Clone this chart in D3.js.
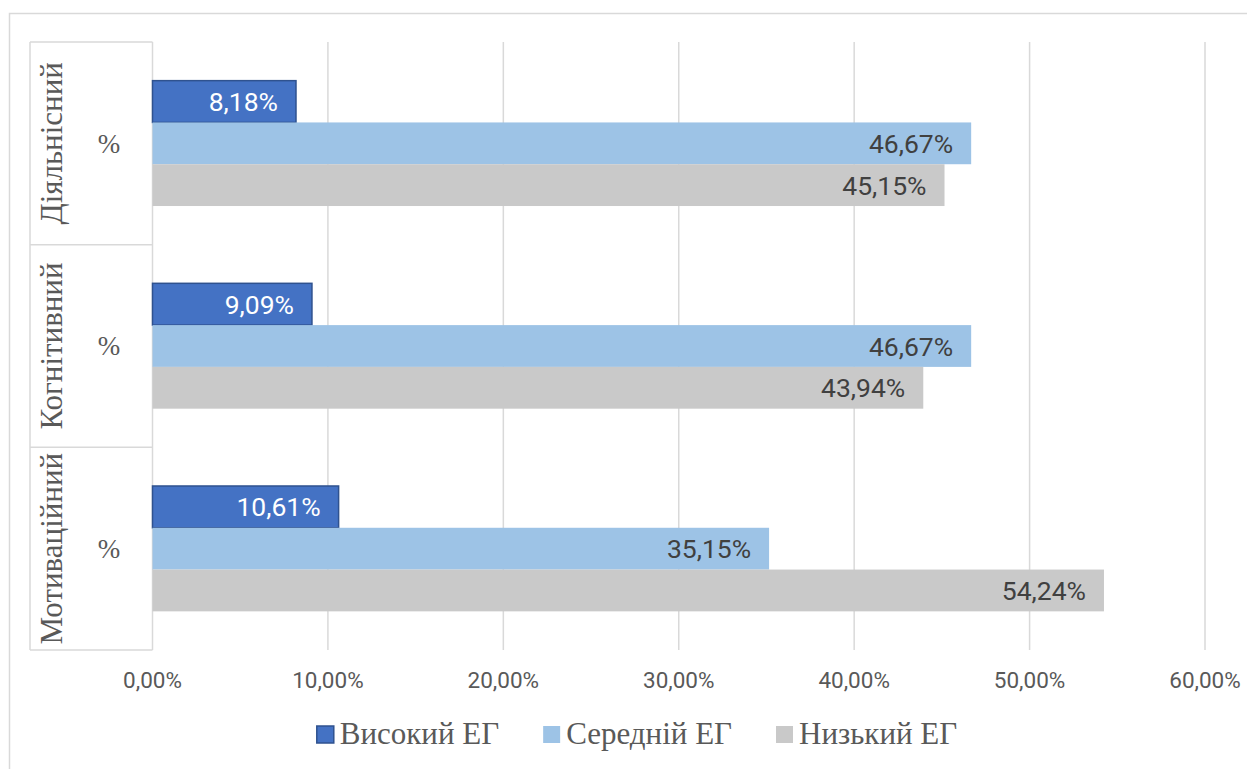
<!DOCTYPE html>
<html>
<head>
<meta charset="utf-8">
<script src="https://cdn.jsdelivr.net/npm/d3@7"></script>
<style>
  body { margin: 0; background: #fff; }
  svg { display: block; }
</style>
</head>
<body>
<svg id="chart" width="1247" height="769"></svg>
<script>
// categories top -> bottom, as in the picture
var categories = ["Діяльнісний", "Когнітивний", "Мотиваційний"];
var subLabel = "%";
var series = ["Високий ЕГ", "Середній ЕГ", "Низький ЕГ"];
var vysokyi = [8.18, 9.09, 10.61];
var serednii = [46.67, 46.67, 35.15];
var nyzkyi = [45.15, 43.94, 54.24];
var ticks = [0, 10, 20, 30, 40, 50, 60];

var colors = ["#4472C4", "#9DC3E6", "#C9C9C9"];
var labelColors = ["#ffffff", "#404040", "#404040"];
var values = [vysokyi, serednii, nyzkyi];

var svg = d3.select("#chart");
var pLeft = 152.5, pRight = 1205, pTop = 42, pBottom = 650;

// outer chart frame
svg.append("rect").attr("x", 9.5).attr("y", 13.5).attr("width", 1400).attr("height", 900)
  .attr("fill", "none").attr("stroke", "#d9d9d9").attr("stroke-width", 1.5);

var x = d3.scaleLinear().domain([0, 60]).range([pLeft, pRight]);
var y = d3.scaleBand().domain(categories).range([pTop, pBottom]);
var yInner = d3.scaleBand().domain(series).range([0, y.bandwidth()]).paddingOuter(0.925);

// vertical gridlines
svg.append("g").selectAll("line").data(ticks.slice(1)).join("line")
  .attr("x1", function(d){ return x(d); }).attr("x2", function(d){ return x(d); })
  .attr("y1", pTop).attr("y2", pBottom)
  .attr("stroke", "#d9d9d9").attr("stroke-width", 1.5);

// category axis boxes
var catAxis = svg.append("g");
catAxis.append("line").attr("x1", pLeft).attr("x2", pLeft).attr("y1", pTop).attr("y2", pBottom)
  .attr("stroke", "#d9d9d9").attr("stroke-width", 1.5);
catAxis.append("line").attr("x1", 30).attr("x2", 30).attr("y1", pTop).attr("y2", pBottom)
  .attr("stroke", "#d9d9d9").attr("stroke-width", 1.5);
var edges = categories.map(function(c){ return y(c); }).concat([pBottom]);
catAxis.selectAll(".sep").data(edges).join("line").attr("class", "sep")
  .attr("x1", 30).attr("x2", pLeft)
  .attr("y1", function(d){ return d; }).attr("y2", function(d){ return d; })
  .attr("stroke", "#d9d9d9").attr("stroke-width", 1.5);

catAxis.selectAll(".cat").data(categories).join("text").attr("class", "cat")
  .attr("transform", function(d){ return "translate(62," + (y(d) + y.bandwidth()/2) + ") rotate(-90)"; })
  .attr("text-anchor", "middle")
  .style("font-family", "'Liberation Serif', 'Times New Roman', serif")
  .style("font-size", "31px").style("fill", "#595959")
  .text(function(d){ return d; });

catAxis.selectAll(".sub").data(categories).join("text").attr("class", "sub")
  .attr("x", 109).attr("y", function(d){ return y(d) + y.bandwidth()/2; })
  .attr("dy", "0.35em").attr("text-anchor", "middle")
  .style("font-family", "'Liberation Serif', 'Times New Roman', serif")
  .style("font-size", "27px").style("fill", "#595959")
  .text(subLabel);

// bars
series.forEach(function(s, si){
  var g = svg.append("g");
  g.selectAll("rect").data(categories).join("rect")
    .attr("x", x(0))
    .attr("y", function(c){ return y(c) + yInner(s); })
    .attr("width", function(c, i){ return x(values[si][i]) - x(0); })
    .attr("height", yInner.bandwidth())
    .attr("fill", colors[si])
    .attr("stroke", si == 0 ? "#2F528F" : "none")
    .attr("stroke-width", si == 0 ? 1.5 : 0);
  g.selectAll("text").data(categories).join("text")
    .attr("x", function(c, i){ return x(values[si][i]) - 18; })
    .attr("y", function(c){ return y(c) + yInner(s) + yInner.bandwidth()/2; })
    .attr("dy", "0.36em").attr("text-anchor", "end")
    .style("font-family", "Roboto, sans-serif").style("font-size", "26.5px")
    .style("fill", labelColors[si])
    .text(function(c, i){ return values[si][i].toFixed(2).replace(".", ",") + "%"; });
});

// x tick labels
svg.append("g").selectAll("text").data(ticks).join("text")
  .attr("x", function(d){ return x(d); }).attr("y", 688)
  .attr("text-anchor", "middle")
  .style("font-family", "Roboto, sans-serif").style("font-size", "22.5px").style("fill", "#595959")
  .text(function(d){ return d.toFixed(2).replace(".", ",") + "%"; });

// legend
var legend = svg.append("g");
var items = legend.selectAll("g").data(series).join("g");
items.append("rect").attr("width", 17).attr("height", 17).attr("y", -18)
  .attr("fill", function(d, i){ return colors[i]; })
  .attr("stroke", function(d, i){ return i == 0 ? "#2F528F" : "none"; })
  .attr("stroke-width", 1.5);
items.append("text").attr("x", 23).attr("y", 0)
  .style("font-family", "'Liberation Serif', 'Times New Roman', serif")
  .style("font-size", "31px").style("fill", "#595959")
  .text(function(d){ return d; });
var pos = 0, gap = 44, offs = [];
items.each(function(){
  offs.push(pos);
  pos += this.getBBox().width + gap;
});
var total = pos - gap;
var lx = 637 - total/2;
items.attr("transform", function(d, i){ return "translate(" + (lx + offs[i]) + ",744)"; });
</script>
</body>
</html>
